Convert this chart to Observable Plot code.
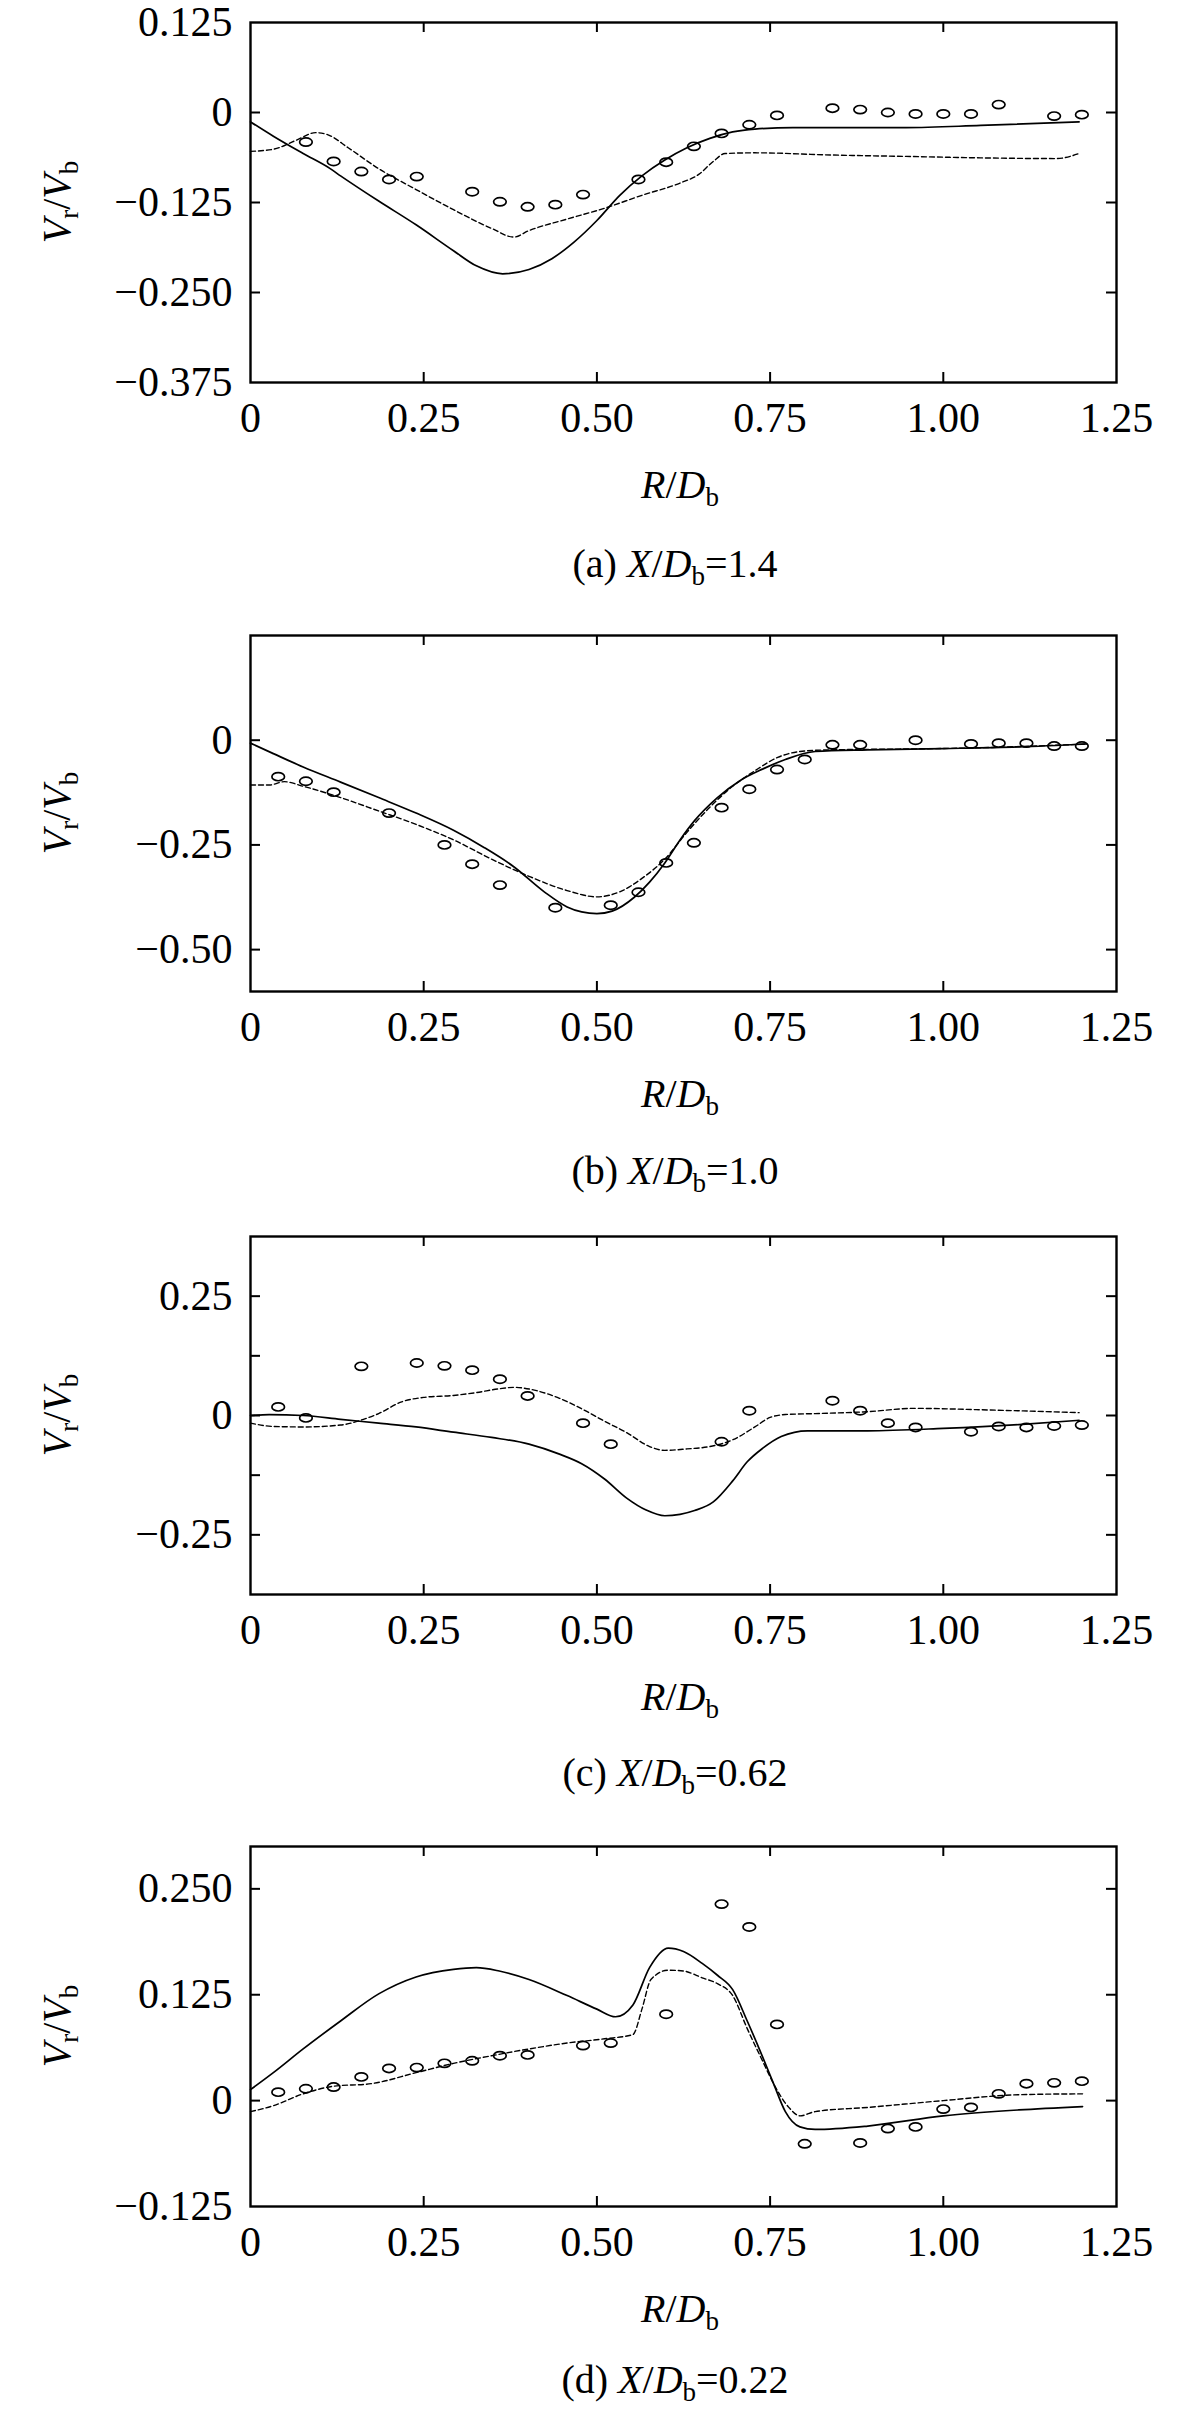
<!DOCTYPE html>
<html><head><meta charset="utf-8">
<script src="https://cdn.jsdelivr.net/npm/d3@7"></script>
<script src="https://cdn.jsdelivr.net/npm/@observablehq/plot@0.6"></script>
<style>
html,body{margin:0;padding:0;background:#fff;overflow:hidden}
#chart svg{display:block}
#chart svg text{font-family:'Liberation Serif','Times New Roman',serif}
</style></head><body><div id="chart"></div>
<script>
// ---------- shared axis data ----------
const xTicks = [0, 0.25, 0.5, 0.75, 1.0, 1.25];
const xTickLabels = ["0", "0.25", "0.50", "0.75", "1.00", "1.25"];
const xInnerTicks = [0.25, 0.5, 0.75, 1.0];

// ---------- panel (a) X/Db = 1.4 ----------
const aDomain = [-0.375, 0.125];
const aYTicks = [0.125, 0, -0.125, -0.25, -0.375];
const aYTickLabels = ["0.125", "0", "\u22120.125", "\u22120.250", "\u22120.375"];
const aYMarks = [0, -0.125, -0.25];
const aExpR = [0.08,0.12,0.16,0.20,0.24,0.32,0.36,0.40,0.44,0.48,0.56,0.60,0.64,0.68,0.72,0.76,0.84,0.88,0.92,0.96,1.00,1.04,1.08,1.16,1.20];
const aExpV = [-0.041,-0.068,-0.082,-0.093,-0.089,-0.110,-0.124,-0.131,-0.128,-0.114,-0.093,-0.069,-0.047,-0.029,-0.017,-0.004,0.006,0.004,0.000,-0.002,-0.002,-0.002,0.011,-0.005,-0.003];
const aSolidR = [0,0.033,0.076,0.115,0.13,0.185,0.239,0.293,0.326,0.364,0.402,0.435,0.467,0.5,0.533,0.565,0.598,0.63,0.663,0.696,0.728,0.783,0.946,1.054,1.196];
const aSolidV = [-0.013,-0.033,-0.057,-0.078,-0.088,-0.123,-0.156,-0.192,-0.213,-0.224,-0.218,-0.203,-0.180,-0.150,-0.115,-0.088,-0.066,-0.049,-0.036,-0.027,-0.023,-0.021,-0.021,-0.018,-0.013];
const aDashR = [0,0.033,0.065,0.094,0.112,0.141,0.185,0.239,0.293,0.348,0.38,0.402,0.457,0.511,0.565,0.62,0.647,0.668,0.685,0.728,0.837,0.946,1.054,1.163,1.196];
const aDashV = [-0.054,-0.051,-0.039,-0.028,-0.031,-0.049,-0.078,-0.107,-0.135,-0.161,-0.173,-0.164,-0.148,-0.133,-0.115,-0.098,-0.086,-0.068,-0.057,-0.056,-0.059,-0.061,-0.063,-0.064,-0.057];

// ---------- panel (b) X/Db = 1.0 ----------
const bDomain = [-0.6, 0.25];
const bYTicks = [0, -0.25, -0.5];
const bYTickLabels = ["0", "\u22120.25", "\u22120.50"];
const bYMarks = [0, -0.25, -0.5];
const bExpR = [0.04,0.08,0.12,0.20,0.28,0.32,0.36,0.44,0.52,0.56,0.60,0.64,0.68,0.72,0.76,0.80,0.84,0.88,0.96,1.04,1.08,1.12,1.16,1.20];
const bExpV = [-0.087,-0.098,-0.124,-0.174,-0.250,-0.296,-0.346,-0.400,-0.394,-0.363,-0.293,-0.245,-0.161,-0.117,-0.070,-0.046,-0.011,-0.011,0.000,-0.009,-0.007,-0.007,-0.014,-0.014];
const bSolidR = [0,0.033,0.076,0.13,0.185,0.239,0.293,0.337,0.38,0.424,0.457,0.478,0.5,0.522,0.554,0.576,0.598,0.62,0.641,0.674,0.707,0.739,0.772,0.815,0.891,1.0,1.109,1.207];
const bSolidV = [-0.007,-0.032,-0.064,-0.100,-0.137,-0.174,-0.215,-0.256,-0.302,-0.362,-0.398,-0.410,-0.414,-0.408,-0.375,-0.339,-0.293,-0.238,-0.192,-0.137,-0.096,-0.069,-0.046,-0.027,-0.023,-0.020,-0.016,-0.009];
const bDashR = [0,0.027,0.049,0.076,0.13,0.185,0.239,0.293,0.348,0.402,0.457,0.5,0.533,0.565,0.598,0.63,0.663,0.696,0.728,0.761,0.793,0.837,0.946,1.054,1.207];
const bDashV = [-0.107,-0.107,-0.099,-0.110,-0.137,-0.169,-0.201,-0.238,-0.284,-0.325,-0.359,-0.374,-0.362,-0.330,-0.284,-0.220,-0.160,-0.110,-0.073,-0.041,-0.027,-0.023,-0.021,-0.018,-0.009];

// ---------- panel (c) X/Db = 0.62 ----------
const cDomain = [-0.375, 0.375];
const cYTicks = [0.25, 0, -0.25];
const cYTickLabels = ["0.25", "0", "\u22120.25"];
const cYMarks = [0.25, 0.125, 0, -0.125, -0.25];
const cExpR = [0.04,0.08,0.16,0.24,0.28,0.32,0.36,0.40,0.48,0.52,0.68,0.72,0.84,0.88,0.92,0.96,1.04,1.08,1.12,1.16,1.20];
const cExpV = [0.018,-0.005,0.103,0.110,0.104,0.095,0.076,0.041,-0.016,-0.060,-0.055,0.010,0.031,0.010,-0.016,-0.025,-0.034,-0.023,-0.025,-0.022,-0.020];
const cSolidR = [0,0.027,0.076,0.13,0.185,0.239,0.293,0.348,0.402,0.446,0.478,0.511,0.543,0.571,0.598,0.62,0.641,0.668,0.696,0.717,0.739,0.766,0.804,0.891,1.0,1.109,1.196];
const cSolidV = [0.000,0.002,0.000,-0.008,-0.016,-0.024,-0.035,-0.046,-0.060,-0.081,-0.101,-0.133,-0.173,-0.198,-0.210,-0.207,-0.199,-0.181,-0.137,-0.097,-0.069,-0.044,-0.032,-0.032,-0.027,-0.019,-0.010];
const cDashR = [0,0.033,0.076,0.13,0.163,0.185,0.217,0.25,0.293,0.326,0.359,0.38,0.413,0.446,0.478,0.511,0.543,0.576,0.598,0.63,0.663,0.696,0.728,0.75,0.772,0.815,0.891,0.957,1.054,1.196];
const cDashV = [-0.016,-0.023,-0.024,-0.020,-0.008,0.004,0.028,0.038,0.042,0.048,0.056,0.059,0.052,0.036,0.014,-0.012,-0.036,-0.065,-0.073,-0.070,-0.065,-0.051,-0.024,-0.004,0.002,0.004,0.008,0.015,0.012,0.006];

// ---------- panel (d) X/Db = 0.22 ----------
const dDomain = [-0.125, 0.3];
const dYTicks = [0.25, 0.125, 0, -0.125];
const dYTickLabels = ["0.250", "0.125", "0", "\u22120.125"];
const dYMarks = [0.25, 0.125, 0];
const dExpR = [0.04,0.08,0.12,0.16,0.20,0.24,0.28,0.32,0.36,0.40,0.48,0.52,0.60,0.68,0.72,0.76,0.80,0.88,0.92,0.96,1.00,1.04,1.08,1.12,1.16,1.20];
const dExpV = [0.010,0.014,0.016,0.028,0.038,0.039,0.044,0.047,0.053,0.054,0.065,0.068,0.102,0.232,0.205,0.090,-0.051,-0.050,-0.033,-0.031,-0.010,-0.008,0.008,0.020,0.021,0.023];
const dSolidR = [0,0.033,0.076,0.13,0.185,0.239,0.293,0.326,0.359,0.402,0.457,0.5,0.527,0.552,0.576,0.603,0.625,0.652,0.674,0.696,0.717,0.739,0.755,0.772,0.793,0.815,0.891,1.0,1.109,1.201];
const dSolidV = [0.013,0.033,0.061,0.094,0.126,0.146,0.155,0.157,0.153,0.143,0.124,0.108,0.099,0.113,0.157,0.180,0.176,0.162,0.148,0.131,0.094,0.052,0.020,-0.013,-0.031,-0.034,-0.030,-0.018,-0.011,-0.007];
const dDashR = [0,0.033,0.076,0.12,0.174,0.239,0.293,0.348,0.402,0.457,0.511,0.552,0.565,0.578,0.603,0.625,0.652,0.674,0.696,0.717,0.739,0.755,0.777,0.793,0.815,0.891,1.0,1.109,1.201];
const dDashV = [-0.013,-0.006,0.008,0.017,0.020,0.033,0.044,0.053,0.061,0.068,0.073,0.078,0.108,0.143,0.154,0.153,0.145,0.138,0.124,0.085,0.047,0.020,-0.008,-0.018,-0.013,-0.008,0.000,0.007,0.008];

// ---------- helpers ----------
const FONT = "'Liberation Serif', 'Times New Roman', serif";
const zip = (xs, ys) => xs.map((x, i) => ({x, y: ys[i]}));
const ellipse = {
  draw(ctx) {
    const rx = 6.3, ry = 4.1, k = 0.5523;
    ctx.moveTo(rx, 0);
    ctx.bezierCurveTo(rx, ry * k, rx * k, ry, 0, ry);
    ctx.bezierCurveTo(-rx * k, ry, -rx, ry * k, -rx, 0);
    ctx.bezierCurveTo(-rx, -ry * k, -rx * k, -ry, 0, -ry);
    ctx.bezierCurveTo(rx * k, -ry, rx, -ry * k, rx, 0);
    ctx.closePath();
  }
};

function rich(textSel, parts, subSize, subShift) {
  let shifted = false;
  parts.forEach(p => {
    const t = textSel.append("tspan").text(p.t);
    if (p.i) t.attr("font-style", "italic");
    if (p.sub) { t.attr("font-size", subSize).attr("dy", subShift); shifted = true; }
    else if (shifted) { t.attr("dy", -subShift); shifted = false; }
  });
}

const W = 1181, ML = 250, MR = 65;

function panel(cfg) {
  const fh = cfg.height - cfg.mt - cfg.mb;
  const fw = W - ML - MR;
  const labelMapY = new Map(cfg.yTicks.map((v, i) => [v, cfg.yTickLabels[i]]));
  const labelMapX = new Map(xTicks.map((v, i) => [v, xTickLabels[i]]));
  const svg = Plot.plot({
    width: W, height: cfg.height,
    marginLeft: ML, marginRight: MR, marginTop: cfg.mt, marginBottom: cfg.mb,
    style: {fontFamily: FONT, fontSize: "42px", color: "black", background: "white"},
    x: {domain: [0, 1.25]},
    y: {domain: cfg.domain},
    marks: [
      Plot.line(zip(cfg.solidR, cfg.solidV), {x: "x", y: "y", stroke: "black", strokeWidth: 1.7, curve: "monotone-x"}),
      Plot.line(zip(cfg.dashR, cfg.dashV), {x: "x", y: "y", stroke: "black", strokeWidth: 1.4, strokeDasharray: "5,3", curve: "monotone-x"}),
      Plot.dot(zip(cfg.expR, cfg.expV), {x: "x", y: "y", symbol: ellipse, stroke: "black", fill: "none", strokeWidth: 1.7}),
      Plot.tickX(xInnerTicks, {x: d => d, insetTop: fh - 10, stroke: "black", strokeWidth: 2}),
      Plot.tickX(xInnerTicks, {x: d => d, insetBottom: fh - 10, stroke: "black", strokeWidth: 2}),
      Plot.tickY(cfg.yMarks, {y: d => d, insetRight: fw - 10, stroke: "black", strokeWidth: 2}),
      Plot.tickY(cfg.yMarks, {y: d => d, insetLeft: fw - 10, stroke: "black", strokeWidth: 2}),
      Plot.frame({stroke: "black", strokeWidth: 2.4}),
      Plot.axisX({ticks: xTicks, tickFormat: d => labelMapX.get(d), tickSize: 0, tickPadding: 20, label: null, fill: "black", fontSize: 42, fontFamily: FONT}),
      Plot.axisY({ticks: cfg.yTicks, tickFormat: d => labelMapY.get(d), tickSize: 0, tickPadding: 18, label: null, fill: "black", fontSize: 42, fontFamily: FONT})
    ]
  });
  const s = d3.select(svg);
  s.selectAll("g[aria-label$='tick label'] text, g[aria-label$='tick label']")
    .attr("font-family", FONT).attr("font-size", 42);
  const fb = cfg.height - cfg.mb;
  const cy = cfg.mt + fh / 2;
  // y-axis title
  const yt = s.append("text").attr("transform", `translate(70,${cy}) rotate(-90)`)
    .attr("text-anchor", "middle").attr("font-size", 40).attr("font-family", FONT).attr("fill", "black");
  rich(yt, [{t: "V", i: true}, {t: "r", sub: true}, {t: "/"}, {t: "V", i: true}, {t: "b", sub: true}], 27, 8);
  // x-axis title
  const xt = s.append("text").attr("x", 680).attr("y", fb + 116)
    .attr("text-anchor", "middle").attr("font-size", 40).attr("font-family", FONT).attr("fill", "black");
  rich(xt, [{t: "R", i: true}, {t: "/"}, {t: "D", i: true}, {t: "b", sub: true}], 27, 8);
  // caption
  const ct = s.append("text").attr("x", 675).attr("y", fb + cfg.capOff)
    .attr("text-anchor", "middle").attr("font-size", 40).attr("font-family", FONT).attr("fill", "black");
  rich(ct, [{t: cfg.tag + " "}, {t: "X", i: true}, {t: "/"}, {t: "D", i: true}, {t: "b", sub: true}, {t: "=" + cfg.xval}], 27, 8);
  return svg;
}

const root = document.getElementById("chart");
root.appendChild(panel({height: 600, mt: 22, mb: 218, domain: aDomain, yTicks: aYTicks, yTickLabels: aYTickLabels, yMarks: aYMarks,
  expR: aExpR, expV: aExpV, solidR: aSolidR, solidV: aSolidV, dashR: aDashR, dashV: aDashV, tag: "(a)", xval: "1.4", capOff: 195}));
root.appendChild(panel({height: 600, mt: 35, mb: 209, domain: bDomain, yTicks: bYTicks, yTickLabels: bYTickLabels, yMarks: bYMarks,
  expR: bExpR, expV: bExpV, solidR: bSolidR, solidV: bSolidV, dashR: bDashR, dashV: bDashV, tag: "(b)", xval: "1.0", capOff: 193}));
root.appendChild(panel({height: 600, mt: 36, mb: 206, domain: cDomain, yTicks: cYTicks, yTickLabels: cYTickLabels, yMarks: cYMarks,
  expR: cExpR, expV: cExpV, solidR: cSolidR, solidV: cSolidV, dashR: cDashR, dashV: cDashV, tag: "(c)", xval: "0.62", capOff: 192}));
root.appendChild(panel({height: 618, mt: 46, mb: 212, domain: dDomain, yTicks: dYTicks, yTickLabels: dYTickLabels, yMarks: dYMarks,
  expR: dExpR, expV: dExpV, solidR: dSolidR, solidV: dSolidV, dashR: dDashR, dashV: dDashV, tag: "(d)", xval: "0.22", capOff: 187}));
</script></body></html>
